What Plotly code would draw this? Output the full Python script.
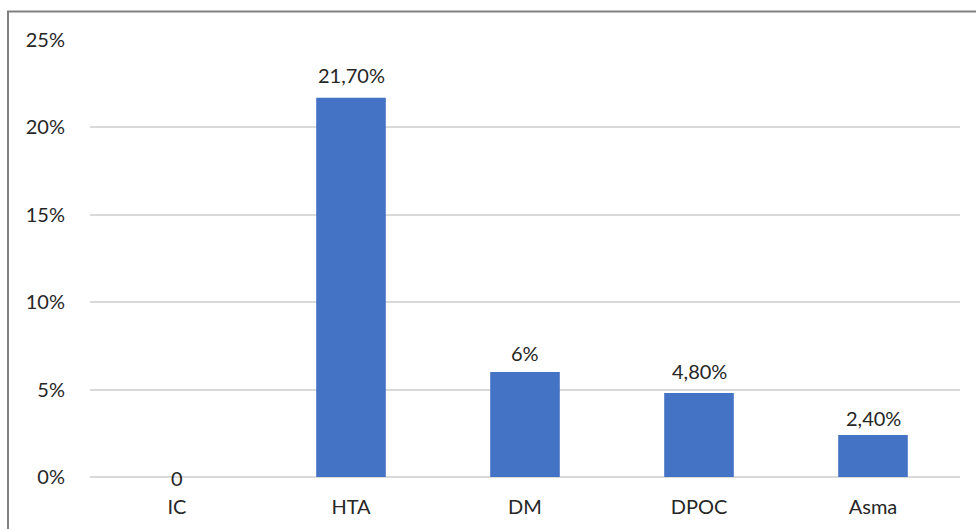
import plotly.graph_objects as go

categories = ["IC", "HTA", "DM", "DPOC", "Asma"]
values = [0, 21.7, 6, 4.8, 2.4]
value_labels = ["0", "21,70%", "6%", "4,80%", "2,40%"]
tick_vals = [0, 5, 10, 15, 20, 25]
tick_text = ["0%", "5%", "10%", "15%", "20%", "25%"]

# vertical pixel offset of each value label's centre above its bar top
label_offsets = [-1, 23, 19, 22, 17]

font_family = "Lato, 'Open Sans', sans-serif"
text_color = "#262626"
font_size = 20

fig = go.Figure(
    go.Bar(
        x=categories,
        y=values,
        marker=dict(color="#4472C4", line=dict(width=0)),
        width=0.4,
        hoverinfo="x+y",
    )
)

for cat, val, lab, off in zip(categories, values, value_labels, label_offsets):
    fig.add_annotation(
        x=cat,
        y=val,
        text=lab,
        showarrow=False,
        yanchor="middle",
        yshift=off,
        font=dict(size=font_size, color=text_color, family=font_family),
    )

fig.update_layout(
    width=976,
    height=529,
    margin=dict(l=90, r=16, t=40, b=52),
    paper_bgcolor="white",
    plot_bgcolor="white",
    showlegend=False,
    font=dict(family=font_family, size=font_size, color=text_color),
    shapes=[
        dict(
            type="rect",
            xref="paper",
            yref="paper",
            x0=(8 - 90) / 870,
            x1=1.05,
            y0=-0.2,
            y1=(477 - 11.5) / 437,
            line=dict(color="#808080", width=2),
            fillcolor="rgba(0,0,0,0)",
            layer="below",
        )
    ],
)

fig.update_xaxes(
    showgrid=False,
    showline=False,
    ticks="outside",
    ticklen=12,
    tickcolor="rgba(0,0,0,0)",
    tickfont=dict(size=font_size, color=text_color),
)
fig.update_yaxes(
    range=[0, 25],
    tickvals=tick_vals,
    ticktext=tick_text,
    showgrid=True,
    gridcolor="#D9D9D9",
    gridwidth=1.5,
    zeroline=True,
    zerolinecolor="#D9D9D9",
    zerolinewidth=1.5,
    showline=False,
    ticks="outside",
    ticklen=20,
    tickcolor="rgba(0,0,0,0)",
    tickfont=dict(size=font_size, color=text_color),
)

fig.write_html("out.html")
